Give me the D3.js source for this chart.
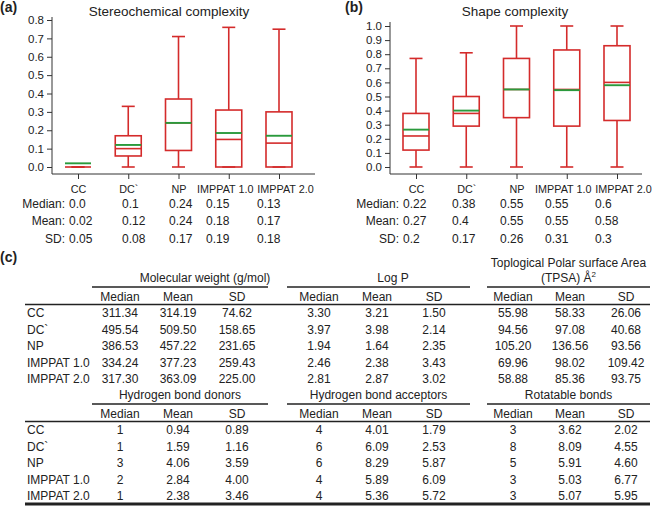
<!DOCTYPE html>
<html><head><meta charset="utf-8">
<script src="https://cdn.jsdelivr.net/npm/d3@7"></script>
<style>
body{margin:0;background:#fff;}
text{font-family:"Liberation Sans",Arial,sans-serif;fill:#222;}
</style></head>
<body><svg id="c" width="660" height="510"></svg>
<script>
const categories = ["CC","DC`","NP","IMPPAT 1.0","IMPPAT 2.0"];

// (a) Stereochemical complexity
const stereoLow    = [0, 0,    0,    0,    0];
const stereoQ1     = [0, 0.06, 0.09, 0,    0];
const stereoMedian = [0, 0.10, 0.24, 0.15, 0.13];
const stereoQ3     = [0, 0.17, 0.37, 0.31, 0.30];
const stereoHigh   = [0, 0.33, 0.71, 0.76, 0.75];
const stereoMean   = [0.02, 0.12, 0.24, 0.185, 0.17];
const stereoTicks  = [0,0.1,0.2,0.3,0.4,0.5,0.6,0.7,0.8];
const stereoTxtMedian = ["0.0","0.1","0.24","0.15","0.13"];
const stereoTxtMean   = ["0.02","0.12","0.24","0.18","0.17"];
const stereoTxtSD     = ["0.05","0.08","0.17","0.19","0.18"];

// (b) Shape complexity
const shapeLow    = [0, 0, 0, 0, 0];
const shapeQ1     = [0.12, 0.29, 0.35, 0.29, 0.33];
const shapeMedian = [0.22, 0.38, 0.55, 0.55, 0.60];
const shapeQ3     = [0.38, 0.50, 0.77, 0.83, 0.86];
const shapeHigh   = [0.77, 0.81, 1.0, 1.0, 1.0];
const shapeMean   = [0.265, 0.40, 0.55, 0.545, 0.58];
const shapeTicks  = [0,0.1,0.2,0.3,0.4,0.5,0.6,0.7,0.8,0.9,1.0];
const shapeTxtMedian = ["0.22","0.38","0.55","0.55","0.6"];
const shapeTxtMean   = ["0.27","0.4","0.55","0.55","0.58"];
const shapeTxtSD     = ["0.2","0.17","0.26","0.31","0.3"];

// (c) table
const tableRows = ["CC","DC`","NP","IMPPAT 1.0","IMPPAT 2.0"];
const colHeads = ["Median","Mean","SD"];
const molWeight = [[311.34,314.19,74.62],[495.54,509.50,158.65],[386.53,457.22,231.65],[334.24,377.23,259.43],[317.30,363.09,225.00]];
const logP = [[3.30,3.21,1.50],[3.97,3.98,2.14],[1.94,1.64,2.35],[2.46,2.38,3.43],[2.81,2.87,3.02]];
const tpsa = [[55.98,58.33,26.06],[94.56,97.08,40.68],[105.20,136.56,93.56],[69.96,98.02,109.42],[58.88,85.36,93.75]];
const hbDonors = [[1,0.94,0.89],[1,1.59,1.16],[3,4.06,3.59],[2,2.84,4.00],[1,2.38,3.46]];
const hbAcceptors = [[4,4.01,1.79],[6,6.09,2.53],[6,8.29,5.87],[4,5.89,6.09],[4,5.36,5.72]];
const rotBonds = [[3,3.62,2.02],[8,8.09,4.55],[5,5.91,4.60],[3,5.03,6.77],[3,5.07,5.95]];

const RED = "#d42b2b", GREEN = "#2a9a3c";
const svg = d3.select("#c");
const labelShift = [0,0,0,-4,6];

function boxPanel(o){
  const g = svg.append("g");
  const x = d3.scalePoint().domain(categories).range(o.xr);
  const y = d3.scaleLinear().domain(o.ydom).range(o.yr);
  const ya = g.append("g").attr("transform",`translate(${o.axX},0)`)
    .call(d3.axisLeft(y).tickValues(o.ticks).tickFormat(d3.format(".1f")).tickSize(5).tickSizeOuter(0));
  ya.select(".domain").remove();
  ya.selectAll("text").style("font-size","11.5px").attr("fill","#222");
  ya.selectAll("line").attr("stroke","#333");
  g.append("line").attr("x1",o.axX).attr("x2",o.axX).attr("y1",o.axTop).attr("y2",o.axBottom).attr("stroke","#333");
  const xa = g.append("g").attr("transform",`translate(0,${o.axBottom})`)
    .call(d3.axisBottom(x).tickSize(5).tickSizeOuter(0).tickPadding(6));
  xa.select(".domain").remove();
  xa.selectAll("text").style("font-size","10.8px").attr("fill","#222").attr("dx",(d,i)=>labelShift[i]);
  xa.selectAll("line").attr("stroke","#333");
  g.append("line").attr("x1",o.axX).attr("x2",o.axRight).attr("y1",o.axBottom).attr("y2",o.axBottom).attr("stroke","#333");
  const bw = 26, cw = 13;
  categories.forEach((c,i)=>{
    const cx = x(c);
    const L = (x1,y1,x2,y2,col,w)=>g.append("line").attr("x1",x1).attr("y1",y1).attr("x2",x2).attr("y2",y2)
        .attr("stroke",col).attr("stroke-width",w);
    L(cx,y(o.low[i]),cx,y(o.q1[i]),RED,1.6);
    L(cx,y(o.q3[i]),cx,y(o.high[i]),RED,1.6);
    L(cx-cw/2,y(o.low[i]),cx+cw/2,y(o.low[i]),RED,1.6);
    L(cx-cw/2,y(o.high[i]),cx+cw/2,y(o.high[i]),RED,1.6);
    g.append("rect").attr("x",cx-bw/2).attr("width",bw).attr("y",y(o.q3[i])).attr("height",y(o.q1[i])-y(o.q3[i]))
      .attr("fill","none").attr("stroke",RED).attr("stroke-width",1.6);
    L(cx-bw/2,y(o.med[i]),cx+bw/2,y(o.med[i]),RED,1.6);
    L(cx-bw/2,y(o.mean[i]),cx+bw/2,y(o.mean[i]),GREEN,1.9);
  });
  g.append("text").attr("x",o.titleX).attr("y",16).attr("text-anchor","middle").style("font-size","13.5px").text(o.title);
  g.append("text").attr("x",o.labX).attr("y",12).style("font-size","14px").style("font-weight","bold").text(o.lab);
  const rows = [["Median:",o.tMed],["Mean:",o.tMean],["SD:",o.tSD]];
  rows.forEach((r,j)=>{
    const yy = 207.5 + j*17.5;
    g.append("text").attr("x",o.rowLabX).attr("y",yy).attr("text-anchor","end").style("font-size","12px").text(r[0]);
    r[1].forEach((v,i)=>{
      g.append("text").attr("x",o.valX[i]).attr("y",yy).style("font-size","12px").text(v);
    });
  });
}

boxPanel({xr:[78,279], ydom:[0,0.8], yr:[167,20], axX:52, axTop:17, axBottom:174, axRight:315,
  ticks:stereoTicks, low:stereoLow, q1:stereoQ1, med:stereoMedian, q3:stereoQ3, high:stereoHigh, mean:stereoMean,
  title:"Stereochemical complexity", titleX:169, lab:"(a)", labX:0,
  tMed:stereoTxtMedian, tMean:stereoTxtMean, tSD:stereoTxtSD, rowLabX:65, valX:[69,122,169,206,257]});
boxPanel({xr:[416,617], ydom:[0,1], yr:[167,26], axX:390, axTop:22, axBottom:174, axRight:642,
  ticks:shapeTicks, low:shapeLow, q1:shapeQ1, med:shapeMedian, q3:shapeQ3, high:shapeHigh, mean:shapeMean,
  title:"Shape complexity", titleX:515, lab:"(b)", labX:345,
  tMed:shapeTxtMedian, tMean:shapeTxtMean, tSD:shapeTxtSD, rowLabX:399, valX:[403,452,500,545,595]});

// (c) tables
svg.append("text").attr("x",0).attr("y",262).style("font-size","14px").style("font-weight","bold").text("(c)");
const groupSpans = [[92,268],[287,470],[487,650]];
const colX = [[120,178,237],[319,377,434],[513,570,626]];
const fs = "12px";
function section(top, groups){
  groups.forEach((gr,k)=>{
    const [a,b] = groupSpans[k];
    const tl = gr.title;
    const tcx = gr.titleX !== undefined ? gr.titleX : (a+b)/2;
    tl.forEach((t,li)=>{
      const tx = svg.append("text").attr("x",tcx).attr("y",top + 4 - (tl.length-1-li)*15)
        .attr("text-anchor","middle").style("font-size",fs);
      if (t === "TPSA") {
        tx.text("(TPSA) Å");
        tx.append("tspan").attr("dy",-5).style("font-size","8px").text("2");
      } else tx.text(t);
    });
    svg.append("line").attr("x1",a).attr("x2",b).attr("y1",top+9).attr("y2",top+9).attr("stroke","#222").attr("stroke-width",1.5);
    colHeads.forEach((h,ci)=>{
      svg.append("text").attr("x",colX[k][ci]).attr("y",top+23).attr("text-anchor","middle").style("font-size",fs).text(h);
    });
    gr.data.forEach((row,ri)=>{
      row.forEach((v,ci)=>{
        svg.append("text").attr("x",colX[k][ci]).attr("y",top+39+ri*16.6).attr("text-anchor","middle").style("font-size",fs)
          .text(gr.intMedian && ci===0 ? String(v) : v.toFixed(2));
      });
    });
  });
  svg.append("line").attr("x1",25).attr("x2",650).attr("y1",top+26.5).attr("y2",top+26.5).attr("stroke","#222").attr("stroke-width",1.5);
  tableRows.forEach((r,ri)=>{
    svg.append("text").attr("x",27).attr("y",top+39+ri*16.6).style("font-size",fs).text(r);
  });
}
section(278, [
  {title:["Molecular weight (g/mol)"], data:molWeight, titleX:205},
  {title:["Log P"], data:logP, titleX:393},
  {title:["Toplogical Polar surface Area","TPSA"], data:tpsa}
]);
section(395, [
  {title:["Hydrogen bond donors"], data:hbDonors, intMedian:true},
  {title:["Hydrogen bond acceptors"], data:hbAcceptors, intMedian:true},
  {title:["Rotatable bonds"], data:rotBonds, intMedian:true}
]);
svg.append("line").attr("x1",25).attr("x2",650).attr("y1",504).attr("y2",504).attr("stroke","#222").attr("stroke-width",3);
</script></body></html>
